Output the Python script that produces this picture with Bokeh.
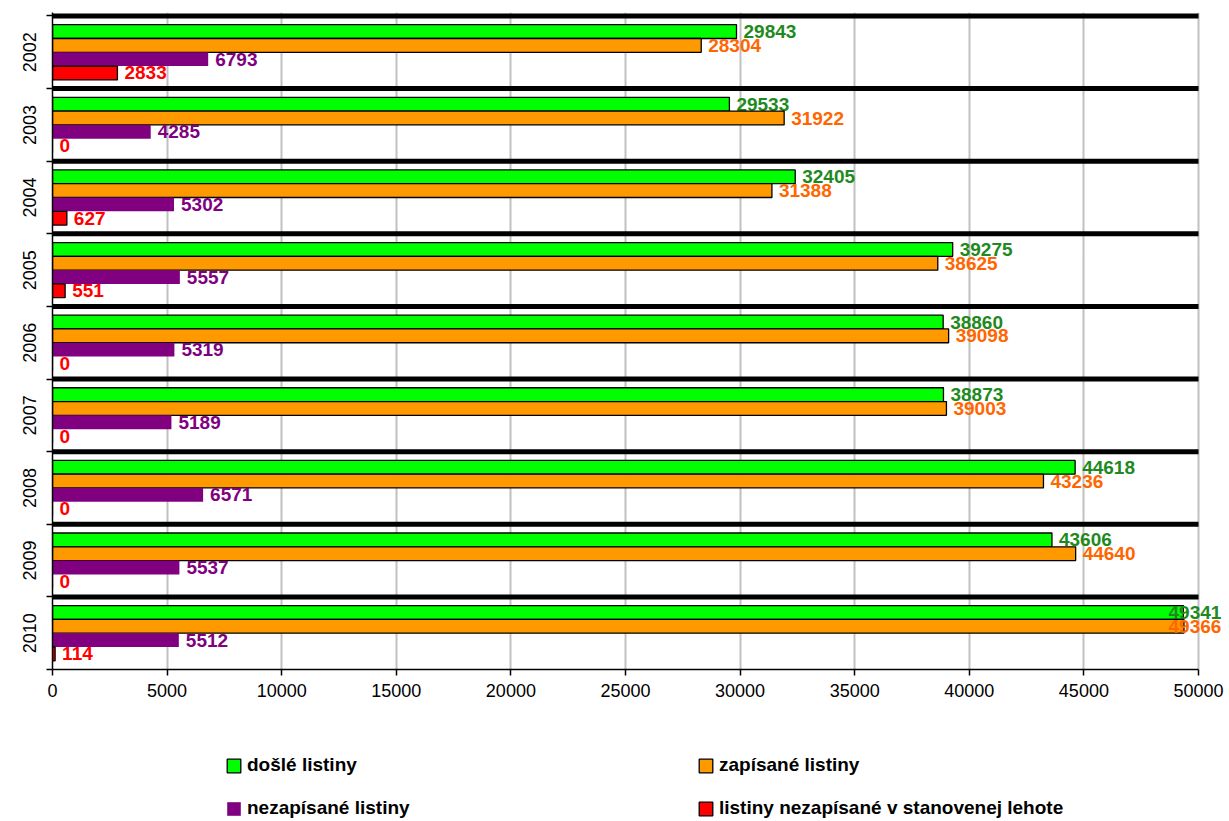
from bokeh.plotting import figure
from bokeh.layouts import column
from bokeh.models import FixedTicker, Legend, LegendItem, ColumnDataSource, Range1d
from bokeh.core.properties import value
from bokeh.embed import file_html
from bokeh.resources import INLINE

# ---------------- data ----------------
years = ["2002", "2003", "2004", "2005", "2006", "2007", "2008", "2009", "2010"]
dosle = [29843, 29533, 32405, 39275, 38860, 38873, 44618, 43606, 49341]
zapisane = [28304, 31922, 31388, 38625, 39098, 39003, 43236, 44640, 49366]
nezapisane = [6793, 4285, 5302, 5557, 5319, 5189, 6571, 5537, 5512]
v_lehote = [2833, 0, 627, 551, 0, 0, 0, 0, 114]
series_names = ["došlé listiny", "zapísané listiny", "nezapísané listiny",
                "listiny nezapísané v stanovenej lehote"]
x_ticks = list(range(0, 50001, 5000))

# ---------------- styles ----------------
fills = ["#00FF00", "#FF9900", "#800080", "#FF0000"]
outlines = ["black", "black", None, "black"]
text_colors = ["#1E8A1E", "#FF6600", "#800080", "#FF0000"]
offsets = [0.285, 0.095, -0.095, -0.285]
BAR_H = 0.19
FONT = "Liberation Sans"

W = 1229
H1, H2 = 712, 109
B_LEFT, B_TOP, B_BOTTOM, B_RIGHT = 52, 12, 43, 0
X_MAX = x_ticks[-1]
AXIS_PX = 1146.0                      # pixel length of 0..X_MAX
frame_w = W - B_LEFT - B_RIGHT
x_end = X_MAX * frame_w / AXIS_PX
px_per_unit = AXIS_PX / X_MAX

n = len(years)
centers = [n - i for i in range(n)]
boundaries = [c + 0.5 for c in centers] + [0.5]

p = figure(width=W, height=H1, output_backend="svg", toolbar_location=None,
           x_range=Range1d(0, x_end), y_range=Range1d(0.5, n + 0.548),
           min_border_left=B_LEFT, min_border_top=B_TOP,
           min_border_bottom=B_BOTTOM, min_border_right=B_RIGHT)
p.outline_line_color = None
p.ygrid.grid_line_color = None
p.xgrid.grid_line_color = "#C0C0C0"
p.xgrid.grid_line_width = 2

# x axis
xa = p.xaxis[0]
xa.ticker = FixedTicker(ticks=x_ticks, minor_ticks=[])
xa.bounds = (0, X_MAX)
xa.major_tick_out = 6
xa.major_tick_in = 0
xa.major_tick_line_width = 1.5
xa.axis_line_width = 1.5
xa.major_label_text_font = FONT
xa.major_label_text_font_size = "18px"
xa.major_label_standoff = 8
xa.major_label_text_color = "black"

# y axis
ya = p.yaxis[0]
ya.ticker = FixedTicker(ticks=centers, minor_ticks=boundaries)
ya.major_label_overrides = {c: y for c, y in zip(centers, years)}
ya.major_tick_out = 0
ya.major_tick_in = 0
ya.minor_tick_out = 6
ya.minor_tick_in = 0
ya.minor_tick_line_color = "black"
ya.minor_tick_line_width = 1.5
ya.axis_line_width = 1.5
ya.major_label_orientation = "vertical"
ya.major_label_text_font = FONT
ya.major_label_text_font_size = "18px"
ya.major_label_standoff = 10
ya.major_label_text_color = "black"

# separators at the top of each category
p.segment(x0=[0] * n, x1=[X_MAX] * n, y0=boundaries[:-1], y1=boundaries[:-1],
          line_color="black", line_width=5, line_cap="butt")

sources = []
for k, vals in enumerate([dosle, zapisane, nezapisane, v_lehote]):
    ys = [c + offsets[k] for c in centers]
    xoff = [min(7, frame_w - 61 - v * px_per_unit) for v in vals]
    src = ColumnDataSource(dict(y=ys, right=vals, label=[str(v) for v in vals], xoff=xoff))
    sources.append(src)
    p.hbar(y="y", right="right", left=0, height=BAR_H, source=src,
           fill_color=fills[k], line_color=outlines[k], line_width=1.3)
    p.text(x="right", y="y", text="label", source=src, x_offset="xoff",
           text_baseline="middle", text_align="left",
           text_font=value(FONT), text_font_style="bold", text_font_size="19px",
           text_color=text_colors[k])

# ---------------- legend strip ----------------
# hidden copies of the series; only their legend swatches are shown
p2 = figure(width=W, height=H2, output_backend="svg", toolbar_location=None,
            x_range=Range1d(-2, -1), y_range=Range1d(-2, -1),
            x_axis_location=None, y_axis_location=None,
            min_border_left=0, min_border_right=0, min_border_top=0, min_border_bottom=0)
p2.outline_line_color = None
p2.grid.visible = False
proxies = []
for k in range(4):
    r = p2.hbar(y="y", right="right", left=0, height=BAR_H, source=sources[k],
                fill_color=fills[k], line_color=outlines[k], line_width=1.3)
    r.visible = False
    proxies.append(r)
items = [LegendItem(label=nm, renderers=[r]) for nm, r in zip(series_names, proxies)]
legend = Legend(items=items, ncols=2, orientation="horizontal", location=(173, 2),
                label_text_font=FONT, label_text_font_style="bold",
                label_text_font_size="19px", label_text_color="black",
                border_line_color=None, inactive_fill_alpha=0,
                background_fill_alpha=0, padding=0, margin=0, spacing=21,
                label_standoff=5, glyph_width=17, glyph_height=17,
                label_width=429, label_height=22)
p2.add_layout(legend, "center")

layout = column(p, p2, spacing=0)
open("out.html", "w").write(file_html(layout, INLINE))
